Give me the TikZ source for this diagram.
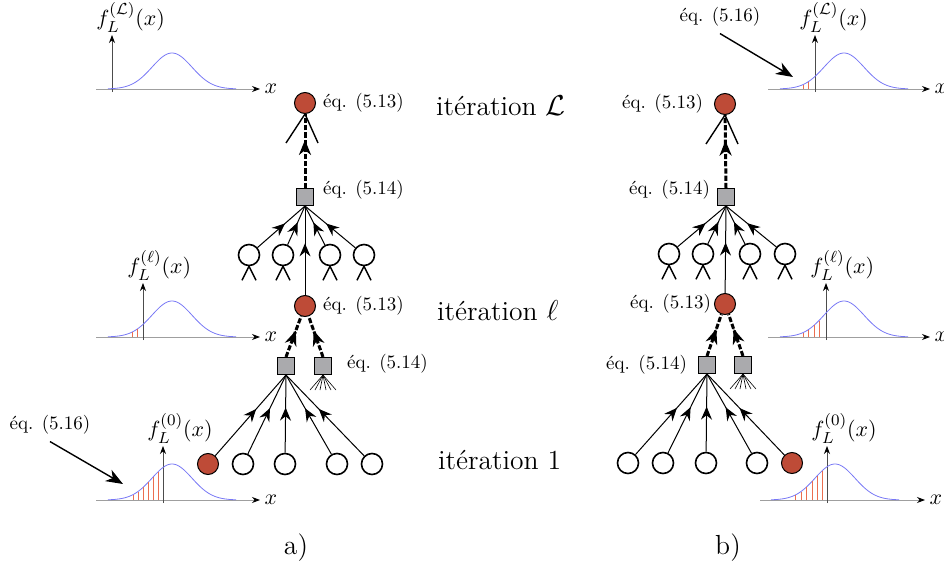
\documentclass[tikz,border=0pt]{standalone}
\usepackage{fontspec}
\usepackage{amsmath,amssymb}
\usetikzlibrary{positioning,arrows.meta,decorations.markings}

\definecolor{brique}{RGB}{190,75,55}
\definecolor{grisnoeud}{RGB}{170,170,173}
\definecolor{bleucourbe}{RGB}{120,120,245}
\definecolor{rougehach}{RGB}{235,110,80}

\tikzset{
  var/.style={circle,draw,line width=0.8pt,minimum size=10.5pt,inner sep=0pt},
  varrouge/.style={var,fill=brique,line width=0.5pt},
  fct/.style={rectangle,draw,fill=grisnoeud,minimum size=8.5pt,inner sep=0pt,line width=0.5pt},
  msg/.style={line width=0.5pt,postaction={decorate},
    decoration={markings,mark=at position 0.58 with {\arrow{Stealth[length=6.5pt,width=5.5pt,inset=2.2pt]}}}},
  msgdash/.style={line width=1.5pt,dash pattern=on 2.6pt off 1pt,postaction={decorate},
    decoration={markings,mark=at position 0.65 with {\arrow{Stealth[length=7.5pt,width=6pt,inset=2.4pt]}}}},
  stub/.style={line width=0.7pt},
  fin/.style={line width=0.3pt},
  petit/.style={font=\fontsize{9.5}{11}\selectfont},
  moyen/.style={font=\fontsize{10.8}{13}\selectfont},
  grand/.style={font=\fontsize{13.8}{16}\selectfont},
  axeh/.style={gray!75,line width=0.5pt,-{Stealth[length=4pt,width=3pt,black]}},
  axev/.style={black!70,line width=0.4pt,-{Stealth[length=4pt,width=3pt,black]}},
  courbe/.style={bleucourbe,line width=0.4pt},
  rouge/.style={rougehach,line width=0.4pt},
  grossefleche/.style={line width=0.7pt,-{Stealth[length=8.5pt,width=6.5pt,inset=2.6pt]}}
}

% #1 nom, #2 ligne de base, #3-#4 axe des x, #5 axe vertical, #6 moyenne, #7 etiquette
\newcommand{\densite}[7]{%
  \draw[axeh] (#3,#2) -- (#4,#2) node[moyen,black,right,inner sep=2pt] (#1x) {$x$};
  \draw[axev] (#5,#2+3) -- (#5,#2-54);
  \node[moyen,anchor=south west,inner sep=0pt] (#1f) at (#5-16,#2-56) {#7};
  \draw[courbe] plot[domain=#6-64:#6+64,samples=80] (\x,{#2-36*exp(-((\x-#6)^2)/800)});
}
% #1 ligne de base, #2 moyenne, #3 abscisses
\newcommand{\hachures}[3]{%
  \foreach \xh in {#3}
    \draw[rouge] (\xh,#1) -- (\xh,{#1-36*exp(-((\xh-#2)^2)/800)});
}

\begin{document}
\begin{tikzpicture}[x=0.5pt,y=-0.5pt]
  \useasboundingbox (0,0) rectangle (944,562);

  % arbre a)
  \node[varrouge] (ra3) at (305,103) {};
  \node[fct] (sa2) at (305,197) {};
  \node[var] (va21) at (249,255) {};
  \node[var] (va22) at (283,255) {};
  \node[var] (va23) at (330,255) {};
  \node[var] (va24) at (364,255) {};
  \node[varrouge] (ra2) at (305,306) {};
  \node[fct] (sa11) at (286,366) {};
  \node[fct] (sa12) at (323,366) {};
  \node[varrouge] (ra1) at (208,464) {};
  \node[var] (va11) at (243,464) {};
  \node[var] (va12) at (285,464) {};
  \node[var] (va13) at (337,464) {};
  \node[var] (va14) at (372,464) {};

  \foreach \n in {ra1,va11,va12,va13,va14}
    \draw[msg] (\n) -- (sa11.south);
  \foreach \n in {sa11,sa12}
    \draw[msgdash] (\n.north) -- (ra2);
  \foreach \n in {va21,va22,va23,va24}
    \draw[msg] (\n) -- (sa2.south);
  \draw[msg] (ra2) -- (sa2.south);
  \draw[msgdash] (sa2.north) -- (ra3);
  \foreach \n in {va21,va22,va23,va24} {
    \draw[stub] (\n.south) -- ++(-7,14);
    \draw[stub] (\n.south) -- ++(7,14);
  }
  \draw[stub] (ra3.south) -- ++(-19,29);
  \draw[stub] (ra3.south) -- ++(13,29);
  \foreach \d in {-13,-8,-3,3,8,13}
    \draw[fin] (sa12.south) -- ++(\d,15);

  \node[petit,right=0pt of ra3] (ea3) {éq. (5.13)};
  \node[petit,right=1pt of sa2,yshift=3.5pt] (ea2) {éq. (5.14)};
  \node[petit,right=0pt of ra2] (ea2b) {éq. (5.13)};
  \node[petit,right=4pt of sa12,yshift=1pt] (ea1) {éq. (5.14)};

  % arbre b)
  \node[varrouge] (rb3) at (725,104) {};
  \node[fct] (sb2) at (726,197) {};
  \node[var] (vb21) at (669,254) {};
  \node[var] (vb22) at (703,254) {};
  \node[var] (vb23) at (750,254) {};
  \node[var] (vb24) at (785,254) {};
  \node[varrouge] (rb2) at (725,304) {};
  \node[fct] (sb11) at (707,365) {};
  \node[fct] (sb12) at (743,365) {};
  \node[var] (vb11) at (628,463) {};
  \node[var] (vb12) at (663,463) {};
  \node[var] (vb13) at (706,463) {};
  \node[var] (vb14) at (757,463) {};
  \node[varrouge] (rb1) at (792,463) {};

  \foreach \n in {vb11,vb12,vb13,vb14,rb1}
    \draw[msg] (\n) -- (sb11.south);
  \foreach \n in {sb11,sb12}
    \draw[msgdash] (\n.north) -- (rb2);
  \foreach \n in {vb21,vb22,vb23,vb24}
    \draw[msg] (\n) -- (sb2.south);
  \draw[msg] (rb2) -- (sb2.south);
  \draw[msgdash] (sb2.north) -- (rb3);
  \foreach \n in {vb21,vb22,vb23,vb24} {
    \draw[stub] (\n.south) -- ++(-7,14);
    \draw[stub] (\n.south) -- ++(7,14);
  }
  \draw[stub] (rb3.south) -- ++(-19,29);
  \draw[stub] (rb3.south) -- ++(13,29);
  \foreach \d in {-13,-8,-3,3,8,13}
    \draw[fin] (sb12.south) -- ++(\d,15);

  \node[petit,left=2pt of rb3] (eb3) {éq. (5.13)};
  \node[petit,left=0pt of sb2,yshift=3.5pt] (eb2) {éq. (5.14)};
  \node[petit,left=-2pt of rb2] (eb2b) {éq. (5.13)};
  \node[petit,left=2pt of sb11] (eb1) {éq. (5.14)};

  % densites
  \densite{pa3}{89}{96}{260}{112}{172}{$f_L^{(\mathcal{L})}(x)$}
  \densite{pa2}{337}{96}{260}{143}{172}{$f_L^{(\ell)}(x)$}
  \hachures{337}{172}{132,137}
  \densite{pa1}{500}{96}{260}{163}{172}{$f_L^{(0)}(x)$}
  \hachures{500}{172}{133,138,143,148,153,158}

  \densite{pb3}{89}{768}{930}{815}{844}{$f_L^{(\mathcal{L})}(x)$}
  \hachures{89}{844}{803,808}
  \densite{pb2}{337}{768}{930}{826}{844}{$f_L^{(\ell)}(x)$}
  \hachures{337}{844}{803,808,814,819}
  \densite{pb1}{500}{760}{925}{827}{835}{$f_L^{(0)}(x)$}
  \hachures{500}{835}{795,801,806,812,817,822}

  \node[petit] (eqa) at (50,425) {éq. (5.16)};
  \coordinate (pa) at (123,484);
  \draw[grossefleche] (eqa.south) -- (pa);
  \node[petit] (eqb) at (720,17) {éq. (5.16)};
  \coordinate (pb) at (793,77);
  \draw[grossefleche] (eqb.south) -- (pb);

  % iterations
  \node[grand,anchor=base west] (itL) at (429,115) {itération $\mathcal{L}$};
  \node[grand,anchor=base west] (itl) at (430,320) {itération $\ell$};
  \node[grand,anchor=base west] (it1) at (431,469) {itération 1};

  \node[grand,anchor=base] (la) at (296,554) {a)};
  \node[grand,anchor=base] (lb) at (728,554) {b)};
\end{tikzpicture}
\end{document}
